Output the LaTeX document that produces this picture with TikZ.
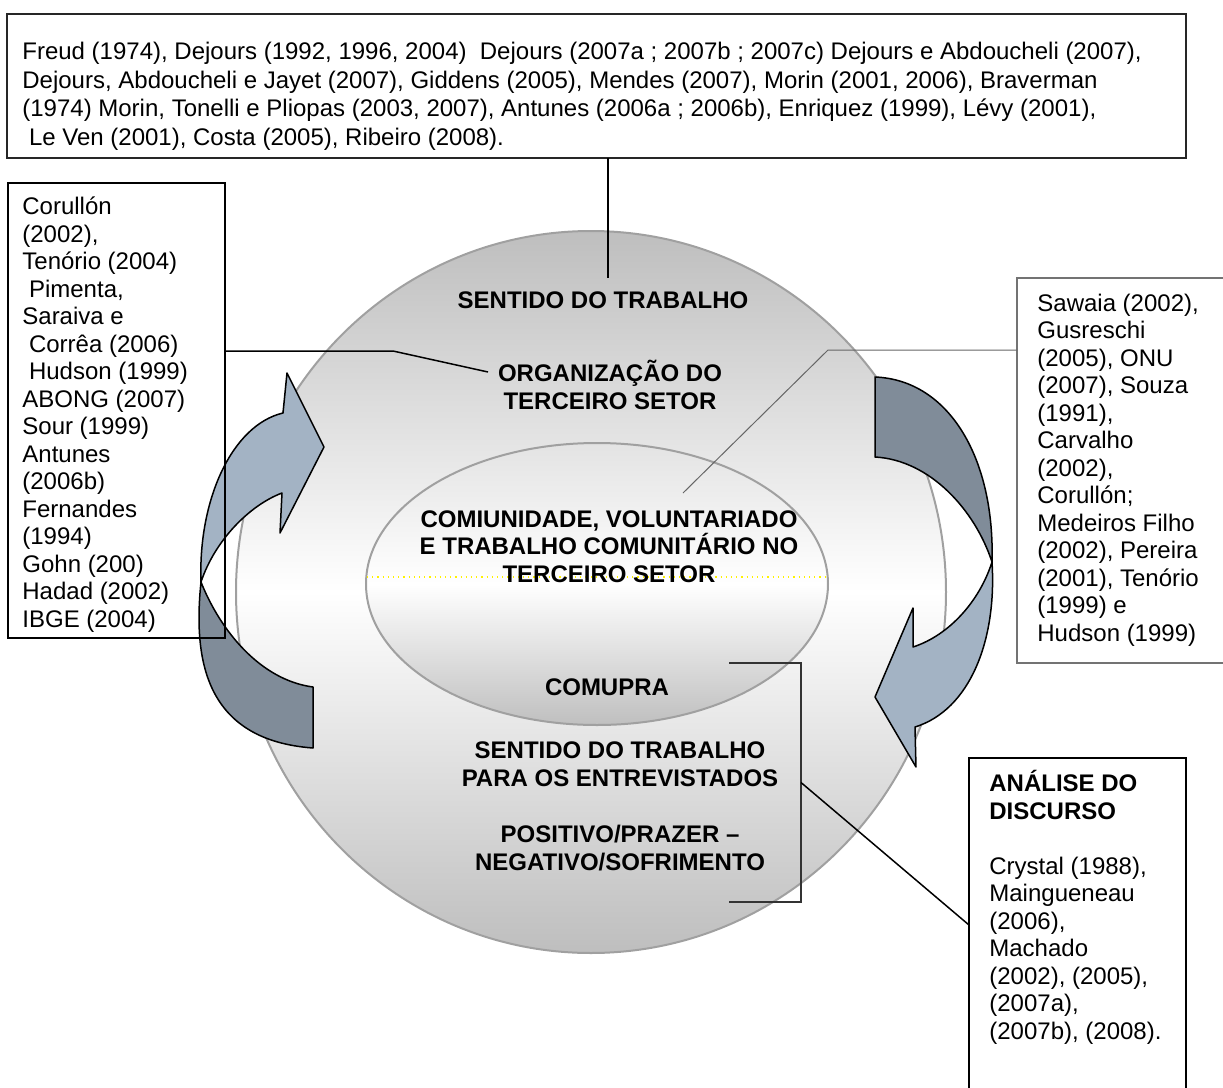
\documentclass[tikz,border=0pt]{standalone}
\usepackage{fontspec}
\setmainfont{Liberation Sans}
\usepackage{tikz}
\usetikzlibrary{calc}

\definecolor{esfera}{RGB}{190,190,190}
\definecolor{contorno}{RGB}{160,160,160}
\definecolor{setaclara}{RGB}{163,179,196}
\definecolor{setaescura}{RGB}{128,140,153}

\tikzset{
  caixa/.style={draw=black, line width=1pt, inner sep=0pt, outer sep=0pt, anchor=north west},
  refs/.style={font=\fontsize{12}{13.75}\selectfont, align=left, inner sep=0pt, anchor=base west},
  titulo/.style={font=\fontsize{12}{13.75}\selectfont\bfseries, align=center, inner sep=0pt, anchor=base},
  liga/.style={draw=black, line width=0.75pt},
  ligacinza/.style={draw=black!60, line width=0.5pt},
  seta/.style={draw=black, line width=0.75pt, line join=round},
}

\begin{document}
\begin{tikzpicture}[x=0.5pt, y=-0.5pt]
            \useasboundingbox (0,0) rectangle (1223,1088);
            \clip (0,0) rectangle (1223,1088);

            % Draw the two spheres
            \draw[contorno, line width=1pt, top color=esfera, bottom color=esfera, middle color=white]
                (591,592) ellipse [x radius=355, y radius=361];
            \draw[contorno, line width=1pt, top color=gray!22, bottom color=gray!50, middle color=white]
                (597,584) ellipse [x radius=231, y radius=141];
            \draw[yellow, dotted, line width=0.6pt] (367,577) -- (827,577);

            % Draw the left curved arrow
            \draw[seta, fill=setaescura] (201,582) .. controls (193,660) and (205,740) .. (313,748)
                -- (313,687) .. controls (260,680) and (220,630) .. (201,582) -- cycle;
            \draw[seta, fill=setaclara] (283,413) -- (287,373) -- (324,447) -- (280,533) -- (282,493)
                .. controls (250,505) and (215,540) .. (201,582)
                .. controls (198,500) and (232,425) .. (283,413) -- cycle;

            % Draw the right curved arrow
            \draw[seta, fill=setaescura] (875,377) .. controls (950,380) and (995,460) .. (992,562)
                .. controls (975,510) and (930,460) .. (875,457) -- cycle;
            \draw[seta, fill=setaclara] (992,562) .. controls (997,640) and (970,710) .. (915,727)
                -- (916,767) -- (875,697) -- (913,608) -- (913,647)
                .. controls (950,635) and (980,600) .. (992,562) -- cycle;

            % Draw the reference boxes (text nodes sit on the baseline of their last line)
            \node[caixa, draw=black!85, minimum width=589.5pt, minimum height=72pt] (autores) at (7,14) {};
            \node[caixa, minimum width=108.5pt, minimum height=227.5pt] (terceiro) at (8,183) {};
            \node[caixa, draw=black!55, line width=0.6pt, minimum width=120pt, minimum height=192.5pt] (comunidade) at (1017,278) {};
            \node[caixa, minimum width=108.5pt, minimum height=180pt] (discurso) at (969,758) {};

            \node[refs, font=\fontsize{12}{14.2}\selectfont] (autorestxt) at (22,145)
                {Freud (1974), Dejours (1992, 1996, 2004)~ Dejours (2007a ; 2007b ; 2007c) Dejours e Abdoucheli (2007),\\
                 Dejours, Abdoucheli e Jayet (2007), Giddens (2005), Mendes (2007), Morin (2001, 2006), Braverman\\
                 (1974) Morin, Tonelli e Pliopas (2003, 2007), Antunes (2006a ; 2006b), Enriquez (1999), Lévy (2001),\\
                 ~Le Ven (2001), Costa (2005), Ribeiro (2008).};
            \node[refs] (terceirotxt) at (22,627)
                {Corullón\\(2002),\\Tenório (2004)\\~Pimenta,\\Saraiva e\\~Corrêa (2006)\\~Hudson (1999)\\ABONG (2007)\\
                 Sour (1999)\\Antunes\\(2006b)\\Fernandes\\(1994)\\Gohn (200)\\Hadad (2002)\\IBGE (2004)};
            \node[refs] (comunidadetxt) at (1037,641)
                {Sawaia (2002),\\Gusreschi\\(2005), ONU\\(2007), Souza\\(1991),\\Carvalho\\(2002),\\Corullón;\\
                 Medeiros Filho\\(2002), Pereira\\(2001), Tenório\\(1999) e\\Hudson (1999)};
            \node[refs] (discursotxt) at (989,1039)
                {\textbf{ANÁLISE DO}\\\textbf{DISCURSO}\\[13.75pt]Crystal (1988),\\Maingueneau\\(2006),\\Machado\\
                 (2002), (2005),\\(2007a),\\(2007b), (2008).};

            % Texts inside the spheres
            \node[titulo] (sentido) at (603,308) {SENTIDO DO TRABALHO};
            \node[titulo] (organizacao) at (610,409) {ORGANIZAÇÃO DO\\TERCEIRO SETOR};
            \node[titulo] (voluntariado) at (609,582) {COMIUNIDADE, VOLUNTARIADO\\E TRABALHO COMUNITÁRIO NO\\TERCEIRO SETOR};
            \node[titulo] (comupra) at (607,695) {COMUPRA};
            \node[titulo, font=\fontsize{12}{14}\selectfont\bfseries] (entrevistados) at (620,870)
                {SENTIDO DO TRABALHO\\PARA OS ENTREVISTADOS\\[14pt]POSITIVO/PRAZER --\\NEGATIVO/SOFRIMENTO};

            % Connectors
            \coordinate (pontaA) at (608,278);
            \coordinate (dobraB) at (393,351);
            \coordinate (pontaB) at (488,372);
            \coordinate (dobraC) at (828,350);
            \coordinate (pontaC) at (683,493);
            \coordinate (chave1) at (729,663);
            \coordinate (chave2) at (801,663);
            \coordinate (chave3) at (801,902);
            \coordinate (chave4) at (729,902);
            \coordinate (pontaD) at (969,925);

            \draw[liga] (autores.south -| pontaA) -- (pontaA);
            \draw[liga] (terceiro.east |- dobraB) -- (dobraB) -- (pontaB);
            \draw[ligacinza] (comunidade.west |- dobraC) -- (dobraC) -- (pontaC);
            \draw[liga, draw=black!80] (chave1) -- (chave2) -- (chave3) -- (chave4);
            \draw[liga] ($(chave2)!0.5!(chave3)$) -- (discurso.west |- pontaD);

        \end{tikzpicture}
\end{document}
